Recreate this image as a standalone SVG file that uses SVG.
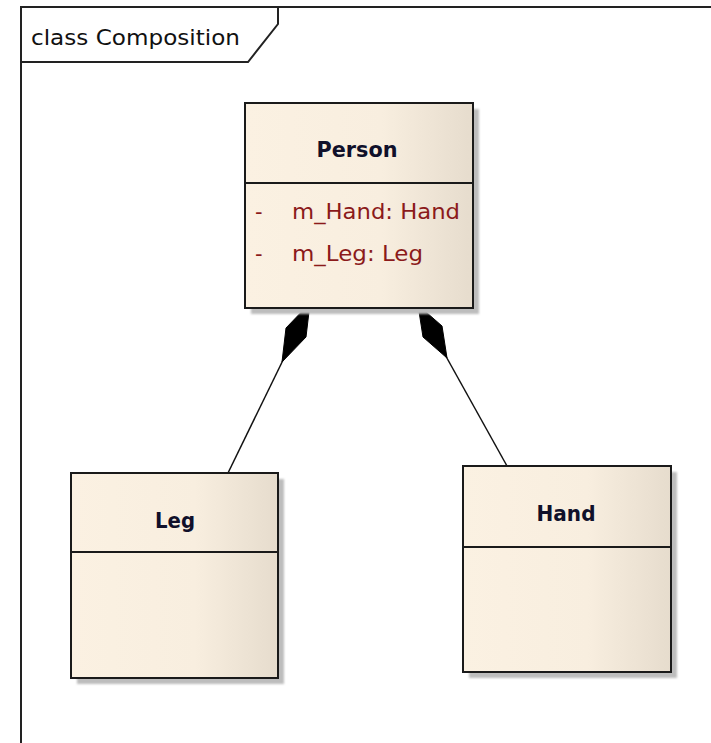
<svg xmlns="http://www.w3.org/2000/svg" width="711" height="743" viewBox="0 0 711 743">
<defs>
<linearGradient id="fill" x1="0" y1="0" x2="1" y2="0">
<stop offset="0" stop-color="#FBF1E2"/>
<stop offset="0.6" stop-color="#F8EEDF"/>
<stop offset="1" stop-color="#E6DCCD"/>
</linearGradient>
<filter id="blur" x="-10%" y="-10%" width="120%" height="120%"><feGaussianBlur stdDeviation="1"/></filter>
</defs>
<style>
.frame{fill:none;stroke:#222;stroke-width:2}
.box{fill:url(#fill);stroke:#1a1a1a;stroke-width:2}
.shadow{fill:#bdbdbd;filter:url(#blur)}
.div{stroke:#1a1a1a;stroke-width:2}
.name{font-family:"DejaVu Sans","Liberation Sans",sans-serif;font-size:22px;font-weight:bold;fill:#10102a;text-anchor:middle}
.attr{font-family:"DejaVu Sans","Liberation Sans",sans-serif;font-size:21px;fill:#8b1a1a}
.title{font-family:"DejaVu Sans","Liberation Sans",sans-serif;font-size:22px;fill:#111}
.line{stroke:#111;stroke-width:1.5;fill:none}
.diamond{fill:#000;stroke:#000;stroke-width:1}
</style>
<rect width="711" height="743" fill="#ffffff"/>
<g id="frame">
<path class="frame" d="M21,743 V7 H711"/>
<path class="frame" d="M21,62 H248 L278,24 V7"/>
<text class="title" x="31" y="45" textLength="209" lengthAdjust="spacingAndGlyphs">class Composition</text>
</g>
<g id="connectors">
<line class="line" x1="286" y1="354" x2="228" y2="473"/>
<polygon class="diamond" points="310,303 306,337 282,362 286,328"/>
<line class="line" x1="443" y1="351" x2="507" y2="466"/>
<polygon class="diamond" points="418,305 442,326 447,358 423,337"/>
</g>
<g id="Person">
<rect class="shadow" x="251" y="109" width="228" height="205"/>
<rect class="box" x="245" y="103" width="228" height="205"/>
<line class="div" x1="245" y1="183" x2="473" y2="183"/>
<text class="name" x="357" y="157" textLength="81" lengthAdjust="spacingAndGlyphs">Person</text>
<text class="attr" x="255" y="219">-</text>
<text class="attr" x="292" y="219" textLength="168" lengthAdjust="spacingAndGlyphs">m_Hand: Hand</text>
<text class="attr" x="255" y="261">-</text>
<text class="attr" x="292" y="261" textLength="131" lengthAdjust="spacingAndGlyphs">m_Leg: Leg</text>
</g>
<g id="Leg">
<rect class="shadow" x="77" y="479" width="207" height="205"/>
<rect class="box" x="71" y="473" width="207" height="205"/>
<line class="div" x1="71" y1="552" x2="278" y2="552"/>
<text class="name" x="175" y="528" textLength="40" lengthAdjust="spacingAndGlyphs">Leg</text>
</g>
<g id="Hand">
<rect class="shadow" x="469" y="472" width="208" height="206"/>
<rect class="box" x="463" y="466" width="208" height="206"/>
<line class="div" x1="463" y1="547" x2="671" y2="547"/>
<text class="name" x="566" y="521" textLength="59" lengthAdjust="spacingAndGlyphs">Hand</text>
</g>
</svg>
